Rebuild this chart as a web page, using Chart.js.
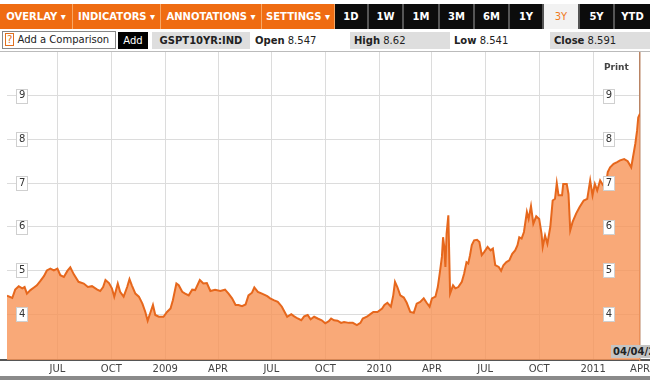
<!DOCTYPE html>
<html>
<head>
<meta charset="utf-8">
<script src="https://cdn.jsdelivr.net/npm/chart.js@4/dist/chart.umd.min.js"></script>
<style>
    body { margin: 0; width: 650px; height: 380px; overflow: hidden; background: #fff;
           font-family: "DejaVu Sans", Verdana, sans-serif; position: relative; }
    .bar1 { position: absolute; top: 4px; left: 0; width: 650px; height: 25px; background: #1a1a1a; }
    .bar1 div { position: absolute; top: 0; height: 25px; line-height: 25px; text-align: center;
                font-size: 10px; font-weight: bold; color: #fff; }
    .menu { background: #ef6c12; border-right: 1px solid #f7a765; }
    .rng { background: #0c0c0c; border-right: 2px solid #555; }
    .rng.on { background: #f2f2f2; color: #f07a1e !important; font-weight: normal !important; }
    .bar2 { position: absolute; top: 29px; left: 0; width: 650px; height: 22px; border-bottom: 1px solid #bbb; }
    .bar2 div { position: absolute; top: 3px; height: 17px; line-height: 17px; font-size: 10px; color: #222; }
    .grey { background: #dedede; }
    #chart { position: absolute; top: 52px; left: 0; }
    .axisline { position: absolute; top: 359px; left: 0; width: 650px; height: 2px; background: #555; }
    .foot { position: absolute; top: 376px; left: 0; width: 650px; height: 4px; background: #8a8a8a; }
    .print { position: absolute; top: 62px; left: 604px; font-size: 9px; font-weight: bold; color: #444; }
    .date { position: absolute; top: 345px; left: 611px; width: 39px; height: 13px; background: #c4c4c4;
            font-size: 10px; font-weight: bold; color: #222; line-height: 13px; padding-left: 2px; overflow: hidden; white-space: nowrap; }
</style>
</head>
<body>
<div class="bar1">
    <div class="menu" style="left:0;width:72px">OVERLAY ▾</div>
    <div class="menu" style="left:73px;width:87px">INDICATORS ▾</div>
    <div class="menu" style="left:161px;width:100px">ANNOTATIONS ▾</div>
    <div class="menu" style="left:262px;width:72px">SETTINGS ▾</div>
    <div class="rng" style="left:335px;width:32px">1D</div>
    <div class="rng" style="left:369px;width:33px">1W</div>
    <div class="rng" style="left:404px;width:34px">1M</div>
    <div class="rng" style="left:440px;width:33px">3M</div>
    <div class="rng" style="left:475px;width:33px">6M</div>
    <div class="rng" style="left:510px;width:32px">1Y</div>
    <div class="rng on" style="left:544px;width:34px">3Y</div>
    <div class="rng" style="left:580px;width:33px">5Y</div>
    <div class="rng" style="left:615px;width:35px;border-right:none">YTD</div>
</div>
<div class="bar2">
    <div style="left:2px;width:112px;border:1px solid #888;top:2px;height:16px;line-height:16px">
        <span style="color:#e07020;border:1px solid #e07020;padding:0 1px;margin-left:2px">?</span> Add a Comparison</div>
    <div style="left:118px;width:30px;background:#000;color:#fff;text-align:center">Add</div>
    <div class="grey" style="left:152px;width:98px;font-weight:bold;text-align:center">GSPT10YR:IND</div>
    <div style="left:255px;width:80px"><b>Open</b> 8.547</div>
    <div class="grey" style="left:350px;width:96px;padding-left:4px"><b>High</b> 8.62</div>
    <div style="left:454px;width:80px"><b>Low</b> 8.541</div>
    <div class="grey" style="left:550px;width:96px;padding-left:4px"><b>Close</b> 8.591</div>
</div>
<div class="axisline"></div>
<canvas id="chart" width="650" height="324"></canvas>
<div class="print">Print</div>
<div class="date">04/04/2011</div>
<div class="foot"></div>

<script>
// -----------------------------
// Données : GSPT10YR, 3 ans (jours depuis le 1er avril 2008)
// -----------------------------
const dayOffset = [
    5, 14, 19, 25, 31, 35, 39, 45, 51, 56,
    62, 68, 73, 79, 85, 91, 96, 102, 108, 113,
    119, 127, 136, 143, 150, 159, 164, 169, 173, 179,
    184, 188, 194, 198, 204, 210, 214, 218, 224, 230,
    236, 241, 245, 250, 254, 258, 264, 272, 278, 284,
    288, 294, 298, 304, 309, 315, 321, 326, 334, 340,
    346, 352, 360, 369, 377, 383, 389, 395, 400, 406,
    412, 417, 423, 427, 433, 440, 449, 454, 460, 467,
    474, 483, 490, 495, 501, 507, 512, 518, 523, 529,
    535, 542, 548, 554, 558, 563, 569, 575, 580, 588,
    595, 602, 608, 612, 619, 625, 630, 637, 645, 649,
    654, 660, 664, 667, 671, 676, 682, 687, 693, 699,
    704, 710, 716, 721, 726, 730, 736, 740, 744, 747,
    749, 751, 753, 755, 758, 761, 766, 770, 775, 781,
    785, 789, 792, 795, 798, 802, 807, 811, 815, 819,
    825, 830, 834, 838, 844, 848, 852, 857, 862, 867,
    872, 876, 879, 883, 887, 892, 895, 899, 903, 908,
    913, 917, 919, 923, 927, 932, 936, 940, 943, 946,
    952, 954, 960, 963, 966, 970, 976, 982, 989, 995,
    1000, 1004, 1008, 1012, 1017, 1022, 1026, 1030, 1034, 1040,
    1046, 1051, 1058, 1064, 1070, 1073, 1077, 1080, 1082, 1085
];

const yieldPct = [
    4.42, 4.37, 4.56, 4.64, 4.59, 4.62, 4.47, 4.55, 4.61, 4.66,
    4.76, 4.87, 5.00, 5.04, 5.00, 5.04, 4.89, 4.85, 4.99, 5.07,
    4.91, 4.74, 4.70, 4.62, 4.64, 4.56, 4.53, 4.62, 4.78, 4.71,
    4.59, 4.40, 4.70, 4.51, 4.40, 4.62, 4.80, 4.66, 4.47, 4.40,
    4.24, 4.05, 3.85, 4.05, 4.21, 3.98, 3.94, 3.94, 4.05, 4.13,
    4.32, 4.70, 4.66, 4.51, 4.47, 4.43, 4.56, 4.55, 4.78, 4.70,
    4.71, 4.53, 4.56, 4.53, 4.56, 4.47, 4.36, 4.21, 4.21, 4.18,
    4.22, 4.43, 4.49, 4.61, 4.51, 4.47, 4.41, 4.36, 4.32, 4.28,
    4.17, 3.94, 4.00, 3.95, 3.90, 3.86, 3.95, 3.98, 3.88, 3.94,
    3.90, 3.86, 3.79, 3.84, 3.90, 3.86, 3.85, 3.80, 3.82, 3.80,
    3.80, 3.75, 3.80, 3.90, 3.94, 4.00, 4.05, 4.05, 4.13, 4.21,
    4.26, 4.17, 4.43, 4.74, 4.62, 4.43, 4.38, 4.26, 4.05, 4.03,
    4.24, 4.28, 4.36, 4.26, 4.17, 4.36, 4.40, 4.62, 5.00, 5.31,
    5.76, 5.54, 5.08, 5.84, 6.26, 4.47, 4.66, 4.59, 4.62, 4.74,
    4.93, 5.19, 5.16, 5.35, 5.58, 5.69, 5.70, 5.65, 5.35, 5.42,
    5.54, 5.46, 5.50, 5.12, 5.08, 4.99, 5.12, 5.19, 5.23, 5.38,
    5.46, 5.58, 5.76, 5.73, 5.88, 6.34, 6.18, 6.47, 6.07, 6.24,
    6.18, 5.84, 5.54, 5.80, 5.61, 6.00, 6.60, 6.64, 7.00, 6.72,
    6.72, 6.98, 6.98, 6.75, 5.92, 6.11, 6.30, 6.45, 6.60, 6.64,
    7.06, 6.72, 6.98, 6.83, 7.06, 6.95, 6.89, 7.25, 7.36, 7.44,
    7.48, 7.52, 7.55, 7.50, 7.36, 7.59, 7.90, 8.20, 8.50, 8.59
];

// graduations
const xTickDays = [91, 183, 275, 365, 456, 548, 640, 730, 821, 913, 1005, 1085];
const xTickLabels = ["JUL", "OCT", "2009", "APR", "JUL", "OCT", "2010", "APR", "JUL", "OCT", "2011", "APR"];
const yTicks = [4, 5, 6, 7, 8, 9];

const LEFT_PAD = 12;
const RIGHT_PAD = 28;


// -----------------------------
// AXES Y
// -----------------------------
// 'y' : grille seule, sous la courbe ; 'yl' / 'yr' : étiquettes au-dessus
function yAxis(position, pad, labels) {
    return {
        position: position,
        min: 2.95,
        max: 10,
        afterBuildTicks: axis => { axis.ticks = yTicks.map(v => ({ value: v })); },
        // étiquettes dans la zone du graphique : l'axe ne prend aucune place
        afterFit: axis => {
            axis.width = 0;
            axis.paddingTop = 0;
            axis.paddingBottom = 0;
        },
        ticks: {
            display: labels,
            z: 1,
            mirror: true,
            padding: pad,
            color: "#333",
            font: { family: "DejaVu Sans", size: 10 }
        },
        grid: { display: !labels, color: "#dcdcdc", drawTicks: false },
        border: position === "right" && labels
            ? { display: true, color: "#b98464", width: 1.5 }
            : { display: false }
    };
}

// petites cases blanches derrière les valeurs de l'axe Y
const labelBoxes = {
    id: "labelBoxes",
    afterDatasetsDraw(chart) {
        const c = chart.ctx;
        const area = chart.chartArea;
        const yScale = chart.scales.yl;
        c.save();
        c.font = "10px 'DejaVu Sans'";
        c.fillStyle = "#ffffff";
        c.strokeStyle = "#cfcfcf";
        c.lineWidth = 1;
        yTicks.forEach(v => {
            const w = Math.round(c.measureText(String(v)).width) + 5;
            const y = Math.round(yScale.getPixelForValue(v)) - 7;
            const xl = Math.round(area.left + LEFT_PAD - 3);
            const xr = Math.round(area.right - RIGHT_PAD - w + 2);
            [xl, xr].forEach(x => {
                c.fillRect(x, y, w, 14);
                c.strokeRect(x + 0.5, y + 0.5, w, 14);
            });
        });
        c.restore();
    }
};

const ctx = document.getElementById("chart");

new Chart(ctx, {
    type: "line",
    data: {
        datasets: [{
            label: "GSPT10YR:IND",
            data: dayOffset.map((d, i) => ({ x: d, y: yieldPct[i] })),
            yAxisID: "y",
            borderColor: "#e6671c",
            backgroundColor: "rgba(248,148,86,0.8)",
            borderWidth: 2,
            pointRadius: 0,
            tension: 0,
            fill: "start"
        }]
    },
    options: {
        responsive: false,
        animation: false,
        layout: { padding: { left: 7, right: 10, top: 0, bottom: 0 } },
        plugins: { legend: { display: false }, tooltip: { enabled: false } },
        scales: {
            x: {
                type: "linear",
                min: 5,
                max: 1085,
                afterBuildTicks: axis => { axis.ticks = xTickDays.map(v => ({ value: v })); },
                afterFit: axis => {
                    axis.height = 16;
                    axis.paddingLeft = 0;
                    axis.paddingRight = 0;
                },
                ticks: {
                    autoSkip: false,
                    maxRotation: 0,
                    padding: 3,
                    color: "#444",
                    font: { family: "DejaVu Sans", size: 10 },
                    callback: (value, index) => xTickLabels[index]
                },
                grid: {
                    color: c => (c.index === xTickDays.length - 1 ? "rgba(0,0,0,0)" : "#dcdcdc"),
                    drawTicks: false
                },
                border: { display: true, color: "#555", width: 2 }
            },
            y: yAxis("left", LEFT_PAD, false),
            yl: yAxis("left", LEFT_PAD, true),
            yr: yAxis("right", -RIGHT_PAD, true)
        }
    },
    plugins: [labelBoxes]
});
</script>
</body>
</html>
